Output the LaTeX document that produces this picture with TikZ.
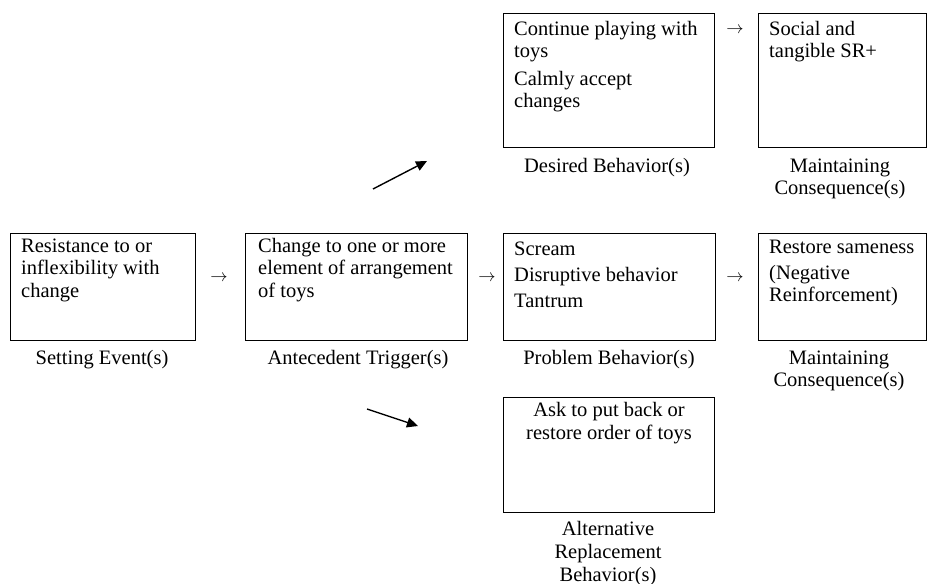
\documentclass[tikz,border=0pt]{standalone}
\usepackage{fontspec}
\setmainfont{Liberation Serif}
\usetikzlibrary{arrows.meta}
\newcommand{\tlines}[1]{\begin{tabular}[t]{@{}l@{}}#1\end{tabular}}
\newcommand{\tclines}[1]{\begin{tabular}[t]{@{}c@{}}#1\end{tabular}}
\begin{document}
\begin{tikzpicture}[x=1pt,y=-1pt,
  box/.style={draw, line width=0.9pt, anchor=north west, inner sep=0pt, outer sep=0pt},
  body/.style={anchor=base west, inner sep=0pt, font=\fontsize{20.5}{22.3}\selectfont},
  cbody/.style={anchor=base, inner sep=0pt, font=\fontsize{20.5}{23.5}\selectfont},
  captxt/.style={anchor=base, inner sep=0pt, font=\fontsize{20.5}{22}\selectfont},
  glyph/.style={inner sep=0pt, font=\fontsize{16}{16}\selectfont},
  diag/.style={line width=1.4pt, -{Triangle[length=11pt,width=10pt]}}]
\useasboundingbox (0,0) rectangle (927,584);
% boxes
\node[box, minimum width=185pt, minimum height=107pt] (set) at (10,233) {};
\node[box, minimum width=222pt, minimum height=107pt] (ant) at (245,233) {};
\node[box, minimum width=212pt, minimum height=107pt] (prob) at (503,233) {};
\node[box, minimum width=168.5pt, minimum height=107pt] (mcm) at (758,233) {};
\node[box, minimum width=211pt, minimum height=134pt] (des) at (503,13) {};
\node[box, minimum width=168.5pt, minimum height=134pt] (mct) at (758,13) {};
\node[box, minimum width=211pt, minimum height=115pt] (alt) at (503,397) {};
% box texts
\node[body] (settxt) at ([xshift=11pt,yshift=-19.5pt]set.north west) {\tlines{Resistance to or\\inflexibility with\\change}};
\node[body] (anttxt) at ([xshift=13pt,yshift=-19.5pt]ant.north west) {\tlines{Change to one or more\\element of arrangement\\of toys}};
\node[body] (probtxt) at ([xshift=11pt,yshift=-22pt]prob.north west) {\tlines{Scream\\[4pt]Disruptive behavior\\[4pt]Tantrum}};
\node[body] (mcmtxt) at ([xshift=11pt,yshift=-20pt]mcm.north west) {\tlines{Restore sameness\\[4pt](Negative\\Reinforcement)}};
\node[body] (destxt) at ([xshift=11pt,yshift=-22pt]des.north west) {\tlines{Continue playing with\\toys\\[5.5pt]Calmly accept\\changes}};
\node[body] (mcttxt) at ([xshift=11pt,yshift=-22pt]mct.north west) {\tlines{Social and\\tangible SR+}};
\node[cbody] (alttxt) at (609,416) {\tclines{Ask to put back or\\restore order of toys}};
% captions
\node[captxt] (setcap) at (102,364.5) {Setting Event(s)};
\node[captxt] (antcap) at (358,364.5) {Antecedent Trigger(s)};
\node[captxt] (probcap) at (609,364.5) {Problem Behavior(s)};
\node[captxt] (mcmcap) at (839,364.5) {\tclines{Maintaining\\Consequence(s)}};
\node[captxt] (descap) at (607,172.5) {Desired Behavior(s)};
\node[captxt] (mctcap) at (840,172.5) {\tclines{Maintaining\\Consequence(s)}};
\node[captxt, font=\fontsize{20.5}{23}\selectfont] (altcap) at (608,535.5) {\tclines{Alternative\\Replacement\\Behavior(s)}};
% arrow glyphs
\node[glyph] (a1) at (219,278) {$\rightarrow$};
\node[glyph] (a2) at (487,278) {$\rightarrow$};
\node[glyph] (a3) at (735,278) {$\rightarrow$};
\node[glyph] (a4) at (735,30) {$\rightarrow$};
% diagonal arrows
\coordinate (u1) at (373,189);
\coordinate (u2) at (427,161);
\coordinate (d1) at (367,409);
\coordinate (d2) at (418,426);
\draw[diag] (u1) -- (u2);
\draw[diag] (d1) -- (d2);
\end{tikzpicture}
\end{document}
